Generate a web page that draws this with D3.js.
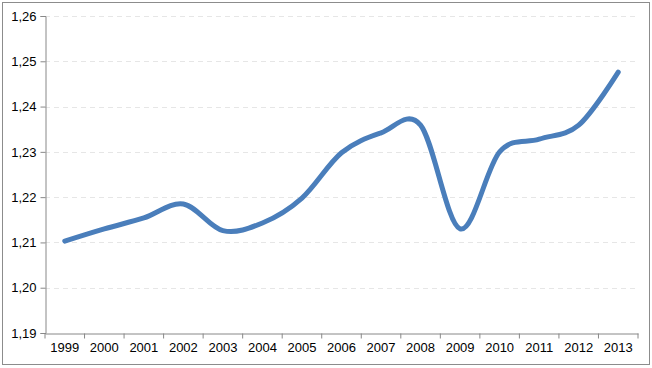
<!DOCTYPE html>
<html><head><meta charset="utf-8">
<script src="https://cdn.jsdelivr.net/npm/d3@7"></script>
<style>body{margin:0;background:#fff}svg{display:block}</style>
</head><body>
<script>
const years = ["1999","2000","2001","2002","2003","2004","2005","2006","2007","2008","2009","2010","2011","2012","2013"];
const values = [1.2103,1.2130,1.2154,1.2185,1.2126,1.2143,1.2198,1.2298,1.2342,1.2359,1.2130,1.2300,1.2328,1.2359,1.2476];
const yTicks = [1.19,1.20,1.21,1.22,1.23,1.24,1.25,1.26];

const W = 652, H = 368;
const m = {left:45, right:14, top:16, bottom:35};
const svg = d3.select("body").append("svg").attr("width",W).attr("height",H);
svg.append("rect").attr("x",2.5).attr("y",2.5).attr("width",W-5).attr("height",H-6)
  .attr("fill","#fff").attr("stroke","#8c8c8c").attr("stroke-width",1);

const x = d3.scaleBand().domain(years).range([m.left, W-m.right]);
const y = d3.scaleLinear().domain([1.19,1.26]).range([H-m.bottom, m.top]);

// grid
svg.append("g").selectAll("line").data(yTicks.slice(1)).join("line")
  .attr("x1",m.left).attr("x2",W-m.right)
  .attr("y1",d=>Math.round(y(d))+0.5).attr("y2",d=>Math.round(y(d))+0.5)
  .attr("stroke","#e6e6e6").attr("stroke-dasharray","5,4");

// y axis
const ya = svg.append("g").attr("transform",`translate(${m.left+0.5},0)`)
  .call(d3.axisLeft(y).tickValues(yTicks).tickSize(5).tickPadding(4)
    .tickFormat(d=>d3.format(".2f")(d).replace(".",",")));
ya.select(".domain").attr("stroke","#888");
ya.selectAll(".tick line").attr("stroke","#888");
ya.selectAll("text").attr("font-family","Liberation Sans, Arial, sans-serif").attr("font-size",13).attr("fill","#000");

// x axis
const xa = svg.append("g").attr("transform",`translate(0,${H-m.bottom+0.5})`)
  .call(d3.axisBottom(x).tickSize(0).tickPadding(9));
xa.select(".domain").attr("stroke","#888");
xa.selectAll("text").attr("font-family","Liberation Sans, Arial, sans-serif").attr("font-size",13).attr("fill","#000");
const bounds = years.map(d=>x(d)).concat([x(years[years.length-1])+x.bandwidth()]);
xa.selectAll(".bt").data(bounds).join("line").attr("class","bt")
  .attr("x1",d=>d).attr("x2",d=>d).attr("y1",0).attr("y2",5).attr("stroke","#888");

// line
const line = d3.line().x((d,i)=>x(years[i])+x.bandwidth()/2).y(d=>y(d)).curve(d3.curveCardinal);
svg.append("path").datum(values).attr("d",line).attr("fill","none")
  .attr("stroke","#4a7ebb").attr("stroke-width",5).attr("stroke-linecap","round").attr("stroke-linejoin","round");
</script>
</body></html>
